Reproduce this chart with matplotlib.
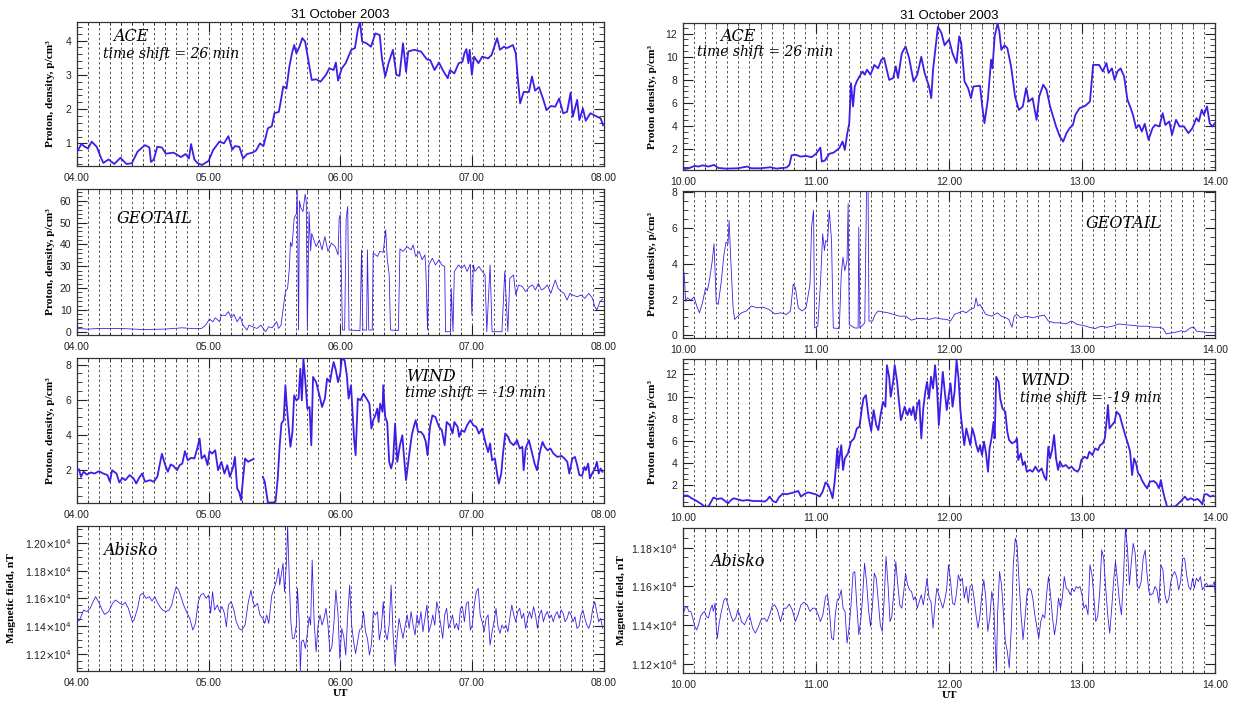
import numpy as np
import matplotlib.pyplot as plt
from matplotlib.ticker import MultipleLocator, AutoMinorLocator, FuncFormatter

plt.rcParams['font.family'] = ['Liberation Sans', 'DejaVu Sans']

# values: (minutes after panel start, value)
ace_l = [(0,0.75),(2,0.98),(3.6,0.9),(5,0.85),(6.7,1.05),(9,0.9),(10.8,0.6),(12,0.43),(14.4,0.53),(17,0.4),
         (19.8,0.58),(22.5,0.4),(25,0.42),(27.6,0.76),(31,0.95),(33,0.88),(33.7,0.46),(35,0.53),(36.6,0.9),
         (38.7,0.88),(40.5,0.7),(44,0.73),(47.4,0.6),(49.5,0.69),(51,0.56),(52,0.98),(53.5,0.53),(55,0.42),
         (57,0.37),(60,0.49),(62,0.8),(64.9,1.05),(67,1.0),(69,1.21),(70.8,0.82),(72,0.92),(74,0.9),(75.7,0.56),
         (77.5,0.69),(80,0.73),(81.6,0.79),(83.4,1.0),(85,0.92),(87,1.44),(88.8,1.5),(90,1.88),(92,1.92),
         (93,2.27),(94,2.66),(95.5,2.6),(96.8,3.24),(98,3.63),(99,3.87),(100,3.63),(101.4,3.82),(102.7,4.07),
         (104,3.97),(105.4,3.44),(107,2.85),(109,2.87),(111,2.8),(113.5,3.0),(115,3.19),(117,3.14),(118,3.36),
         (119,2.83),(120.7,3.19),(122.5,3.34),(125,3.73),(126.7,3.78),(128,4.31),(129,4.55),(130,3.97),
         (132,3.92),(134,3.82),(136,4.21),(138,4.16),(139,3.48),(140.5,2.95),(142,3.34),(144,3.73),(145.6,3.0),
         (147,2.97),(148.6,3.92),(150,3.09),(151,3.68),(153.7,3.73),(156.8,3.68),(159.5,3.45),(161,3.43),
         (163,3.14),(165,3.36),(166.7,3.14),(169,2.9),(170,3.14),(172,3.04),(174,3.34),(175.7,3.38),
         (176.6,3.63),(177.5,3.75),(178.4,3.34),(179,3.73),(180,3.0),(181,3.53),(183,3.34),(184.7,3.53),
         (187.4,3.48),(189,3.58),(191.5,4.07),(192.8,3.73),(194.6,3.82),(196,3.78),(198.7,3.87),(200,3.63),
         (201,2.85),(202,2.17),(203.6,2.5),(206,2.5),(207.4,2.95),(208.8,2.54),(210.6,2.64),(212.6,2.27),
         (214,1.97),(216,2.09),(218,2.07),(219.8,2.31),(221.6,1.88),(223.4,1.92),(225,2.48),(226,1.78),
         (228,2.27),(229,1.68),(230.6,2.02),(231.9,1.66),(234,1.88),(237,1.78),(238.7,1.73),(239.8,1.53)]

ace_r = [(0,0.27),(2.6,0.35),(5.3,0.55),(7,0.5),(8.8,0.6),(11.5,0.5),(14,0.64),(15.9,0.38),(19.4,0.32),
         (24.7,0.35),(29,0.5),(30.8,0.35),(35,0.35),(39.6,0.44),(42,0.32),(46.7,0.41),(48,0.64),(49,1.48),
         (51,1.51),(53,1.36),(55.5,1.42),(58,1.31),(60,1.6),(62,2.14),(62.6,0.93),(64,1.02),(66,1.6),(68,1.71),
         (70.5,2.09),(72,2.66),(73,1.94),(74,3.24),(75,4.25),(75.8,7.72),(76.7,5.7),(77.5,7.43),(78.4,7.87),
         (79.6,8.3),(81,8.73),(82,8.45),(83,8.88),(84.6,8.45),(86.3,9.3),(88,9.0),(89.5,9.75),(90.7,9.9),
         (91.6,9.17),(93,8.0),(94.8,8.16),(96,9.17),(97,8.16),(98.7,10.3),(100.4,10.9),(102,9.9),(104,7.87),
         (105.7,8.45),(107.5,10.0),(109,8.6),(111,7.43),(112,6.42),(112.8,8.88),(114,10.9),(115,12.6),
         (116.6,12.06),(118,11.0),(120,11.5),(121.6,10.3),(123.4,9.46),(124.6,11.77),(125.5,11.2),(127,7.87),
         (128.6,7.29),(129.9,6.42),(131,7.43),(134,7.49),(135,5.7),(136,4.25),(137.5,6.27),(139,9.75),
         (139.6,9.0),(140.6,11.77),(141.9,12.9),(142.7,12.2),(143.6,10.6),(145,11.0),(146.3,10.76),(148,9.17),
         (149.8,6.57),(151.5,5.4),(153.3,5.7),(154.8,7.29),(156,6.13),(157.7,6.42),(159.5,4.54),(160.7,6.57),
         (162.5,7.58),(164,7.14),(165.6,5.7),(168.3,3.97),(170,3.1),(171.5,2.66),(173,3.39),(174.4,3.82),
         (175.9,4.1),(177,4.98),(178.9,5.55),(181.5,5.76),(183.6,6.13),(185,9.3),(187.7,9.3),(189.4,8.73),
         (191,9.46),(192,8.6),(193.5,9.0),(194.7,8.0),(196,8.73),(197.4,9.0),(199,8.3),(200.5,6.27),
         (201.7,5.7),(203,4.98),(204.4,3.82),(205.8,4.1),(207,3.53),(208.3,4.2),(210,2.81),(211.8,3.82),
         (213,4.1),(214.9,3.97),(216.4,5.12),(217.6,4.1),(219.4,4.4),(220.6,3.24),(222.4,4.54),(224,3.97),
         (226,3.97),(228,3.39),(229.8,3.82),(231.6,4.69),(232.7,4.4),(234,5.41),(235,4.98),(236.4,5.7),
         (237.6,4.25),(238.8,3.97),(240,4.25)]

geotail_l = [(0,1.5),(5,1.2),(10,1.5),(20,1.5),(30,1.0),(40,1.2),(48,1.8),(53,1.4),(56.8,1.5),(58.6,3.0),
             (60.4,5.8),(62,4.6),(63,6.4),(65,4.6),(65.8,7.7),(67.6,7.4),(69,9.2),(70.3,6.4),(71.5,8.0),
             (73,4.6),(74.4,6.9),(75.7,3.0),(77.5,0.8),(78.4,3.0),(80,2.3),(82,1.5),(83.8,3.0),(86,0.0),
             (87.4,2.3),(89,1.8),(91,4.6),(91.9,1.5),(93,3.0),(94,10.7),(95,18.4),(96,19.9),(96.8,29),
             (97.3,41),(98,39),(99,52),(100,54),(100.4,65),(101,0.8),(101.4,60),(102,57),(103,55),(104,63),
             (104.5,60),(105,0.8),(105.8,55),(106.5,37),(107,45),(109,39),(110.5,42),(111.7,37.5),(113,43.6),
             (114.4,36.8),(116,40.6),(117.7,39),(119,35.2),(119.5,52),(120,53.6),(121,0.8),(122,0.8),
             (122.7,52),(123.4,57.4),(124,0.8),(129,0.5),(129.7,37.5),(130.3,0.8),(132,0.8),(132.4,37.5),
             (133,0.8),(134.6,0.8),(135,36),(137,34.5),(138,36.8),(139.6,36.4),(140.7,46.7),(141.4,33.7),
             (142.3,26),(142.9,0.8),(146.5,0.5),(147.2,38),(148.6,36.8),(150.5,39),(152.3,37.5),(153.2,39.8),
             (154.4,34.5),(156,36.8),(157.3,33),(158.6,35.2),(159,29),(159.8,0.8),(160.4,30.6),(162,33.7),
             (163.4,30.6),(165,33),(166.3,30.6),(167.6,29.9),(168,0),(170.3,0),(170.6,19.9),(171.4,0),
             (172,27.6),(173.9,30.6),(175.3,29),(176.6,30.6),(177.8,27.6),(179.3,31),(180,7.7),(180.7,30.6),
             (181.4,27.6),(183.2,29.9),(184.7,27.6),(186,26),(186.8,0),(188.3,30.6),(189.2,0),(193.7,0),
             (195,27.6),(196.4,0),(197.3,24.5),(199,26),(200,16.8),(201.3,21.4),(203,20.7),(204.5,18.4),
             (206.3,20.7),(207.7,21.4),(209,19.1),(210.3,22.2),(211.7,19.1),(213,19.9),(214.4,21.4),(216,17.6),
             (218,23.7),(219.3,19.9),(220.7,18.4),(222,17.6),(223.4,14.5),(224.7,17.6),(226,16.8),(228,16),
             (229.7,16.8),(231.5,15.3),(233.3,17.6),(235,15.3),(236,11.5),(237,10),(238.4,13.8),(239.6,15)]

geotail_r = [(0,3.05),(0.5,3.5),(1.2,1.9),(2,2.1),(3.5,1.96),(5,2.15),(6.2,1.64),(7.4,1.26),(8.8,1.83),
             (10.2,2.67),(11,2.5),(12,3.14),(13.2,4.18),(14,5.12),(15,1.83),(15.9,1.73),(17.3,3.05),(18.5,4.56),
             (19.4,5.22),(20.3,5.12),(20.8,6.44),(21.5,4.37),(22.6,1.54),(23.3,0.89),(24.7,1.07),(26.4,1.26),
             (28.5,1.36),(30.8,1.64),(33.5,1.54),(36,1.58),(38.8,1.45),(41.4,1.2),(44,1.26),(46.7,1.17),
             (48.5,1.36),(49.7,2.86),(50.7,2.67),(52,1.54),(53.7,1.36),(55.5,1.54),(57.3,2.86),(58,6.06),
             (58.9,7.0),(59.4,0.41),(60.8,0.51),(62,2.86),(63,5.69),(63.8,4.75),(64.3,5.31),(65.2,5.22),(66,7.0),
             (67,5.31),(67.8,0.41),(70.5,0.38),(71.4,3.43),(72.2,4.37),(73,3.62),(74,4.18),(74.5,7.38),(75,0.6),
             (77.5,0.41),(79,0.41),(79.3,6.06),(79.8,0.41),(82,0.7),(82.8,8.1),(83.5,8.1),(83.9,0.8),(85.5,0.8),
             (86.7,1.17),(88,1.36),(89.9,1.32),(92.5,1.26),(95,1.17),(97.8,1.07),(100.4,1.07),(103,0.85),
             (105.7,0.94),(108.4,0.94),(111,0.89),(113.7,0.98),(116.3,0.92),(119,0.89),(120.7,0.8),(122.5,1.17),
             (124.3,1.26),(126,1.36),(127.8,1.26),(129.6,1.45),(131.4,1.54),(132.2,2.1),(133,1.64),(134,1.73),
             (134.8,1.54),(136.6,1.17),(139.2,1.07),(141.9,1.26),(143.6,1.07),(145.4,1.0),(147,0.89),
             (148.4,0.45),(149.4,1.07),(150.7,1.17),(152.4,0.98),(155,1.07),(157.7,0.98),(160.3,1.07),
             (163,1.13),(164.8,0.8),(167.4,0.7),(170,0.7),(172.7,0.64),(175.3,0.8),(178,0.6),(180.6,0.56),
             (183.3,0.45),(186,0.38),(188.5,0.51),(191.2,0.45),(193.8,0.51),(196.5,0.64),(199,0.6),(202.6,0.56),
             (206,0.51),(209.6,0.51),(212.3,0.45),(215,0.45),(216.6,0.38),(218,0.08),(220,0.13),(222.9,0.19),
             (224.7,0.26),(226.5,0.19),(228.7,0.41),(230.5,0.45),(231.7,0.23),(234.4,0.19),(237.9,0.15),
             (240,0.15)]

wind_l = [(0,1.96),(0.9,2.02),(1.8,1.58),(3,1.87),(4.5,1.71),(6.3,1.83),(8,1.77),(10,1.9),(12,1.77),
          (13.9,1.68),(15,1.3),(16,1.96),(18,1.77),(19.3,1.26),(20.7,1.52),(22,1.39),(24,1.68),(25.8,1.49),
          (27,1.2),(28.3,1.52),(29.7,1.77),(31,1.3),(33.3,1.39),(35,1.3),(36.6,1.58),(37.5,2.15),(38.7,2.9),
          (40,2.34),(41.4,1.87),(42.7,2.29),(44,2.2),(45.6,1.96),(46.8,2.25),(48,2.34),(49.2,3.05),(50.5,2.53),
          (52,2.67),(53.5,2.63),(54.6,3.1),(55.9,3.77),(56.8,2.63),(58.2,2.82),(59.5,2.25),(60.4,3.05),
          (61.6,2.91),(63,3.1),(64.3,1.96),(65.8,2.44),(67.2,1.77),(68.5,2.25),(69.7,1.58),(71.2,2.15),
          (72,2.72),(73,0.91),(73.9,0.72),(74.8,0.25),(75.7,1.49),(76.6,2.63),(78,2.44),(79.3,2.53),
          (80.5,2.6),(82,np.nan),(84.7,1.58),(85.6,1.3),(87,0.11),(89.2,0.11),(90.5,0.15),(91.5,1.49),
          (92.4,3.39),(93.2,4.63),(94.2,4.82),(95,6.82),(95.5,5.87),(96.4,4.53),(97.3,3.3),(98.2,4.15),
          (99,6.25),(100,5.96),(101,6.06),(101.8,7.77),(102.5,5.96),(103.2,8.35),(104,7.2),(105,5.49),
          (106,5.58),(106.8,3.39),(107.6,7.3),(109,7.0),(110.5,6.25),(111.7,5.58),(113,6.06),(114,7.2),
          (115.3,7.0),(116.2,7.68),(117,8.15),(118,7.68),(119,7.0),(120,7.49),(120.7,8.35),(122,8.25),
          (123,7.39),(123.8,6.06),(124.9,6.82),(125.6,5.3),(126.3,3.77),(127,2.82),(128,6.06),(129.2,5.96),
          (130.6,6.34),(132,6.06),(133.3,5.77),(134.2,4.34),(135,4.82),(136,5.1),(136.9,5.49),(137.5,4.72),
          (138.2,5.77),(139.3,5.3),(139.6,6.82),(140.5,5.0),(141.4,4.72),(142.3,2.44),(143.2,2.06),
          (144.1,2.53),(145,4.63),(146,2.44),(147.2,3.39),(148.3,3.96),(149,2.82),(150,1.39),(151.4,2.82),
          (152.6,3.96),(153.7,4.53),(154.4,4.82),(155.5,4.15),(156.8,4.15),(158,3.96),(159,3.58),(159.8,2.82),
          (160.9,4.44),(162,5.1),(163.4,5.0),(165,4.44),(166.3,4.25),(167.6,3.39),(168.5,4.72),(170,4.53),
          (171.2,4.06),(172,4.72),(173.5,4.44),(174.2,3.87),(175.3,4.25),(176.6,4.15),(177.8,4.53),
          (179.3,4.82),(180.7,4.53),(182,4.44),(183.2,4.06),(184.7,4.34),(186.1,3.58),(187.4,3.0),(188.3,3.49),
          (189.2,2.53),(190.5,2.63),(191.5,1.77),(192.3,1.2),(193.4,1.77),(194.1,2.82),(195.2,4.06),
          (196.5,3.87),(197.4,3.58),(199,3.39),(200.6,3.68),(201.8,3.2),(203,3.3),(203.6,1.96),(204.5,3.2),
          (206,3.68),(207.3,3.0),(208.6,2.34),(209.7,1.96),(211,3.0),(212.2,3.58),(213.2,3.3),(214.5,3.1),
          (215.8,3.2),(217.2,2.91),(219,2.72),(220.9,2.78),(222.2,2.63),(223.5,2.44),(224.4,1.77),(225.8,2.63),
          (227,2.72),(228,2.25),(229,1.68),(230.2,1.64),(231.3,2.15),(232,1.96),(233,2.34),(233.8,1.49),
          (234.8,1.77),(236.1,2.06),(237,2.44),(237.8,1.77),(238.7,2.06),(239.5,1.87)]

wind_r = [(0,1.04),(2.1,1.04),(3.9,0.8),(6.2,0.55),(8.5,0.25),(9.7,0.05),(11.5,0.05),(12.7,0.5),(13.7,0.86),
          (15.5,0.73),(17.3,0.8),(19,0.55),(20.3,0.34),(21.5,0.61),(22.9,0.8),(24.7,0.7),(26.8,0.58),(29,0.64),
          (31.7,0.55),(34.4,0.55),(36.7,0.5),(37.9,0.64),(39.1,0.95),(40.5,0.55),(42,0.43),(43.2,0.86),
          (45,1.22),(46.7,1.16),(48.5,1.25),(50.2,1.34),(52,1.46),(53.2,0.95),(54.6,1.16),(56.4,1.34),
          (58.1,1.25),(59.9,1.16),(61.7,0.95),(63,1.4),(64.3,2.24),(65.5,2.0),(66.6,1.4),(67.5,0.8),(68.4,2.3),
          (69,3.66),(69.6,5.31),(70.1,3.5),(70.8,4.7),(71.4,5.61),(72.2,3.36),(73,4.4),(74.4,4.86),(75.8,5.92),
          (77.2,6.22),(78.4,7.12),(79.6,7.27),(80.7,8.93),(81.4,9.83),(82.5,10.13),(83.7,8.17),(84.9,6.88),
          (86,8.78),(87.2,7.42),(88.1,6.97),(89,8.17),(90.2,9.53),(91.3,9.08),(92,12.84),(93,11.79),(93.7,9.98),
          (94.8,11.34),(95.5,12.84),(96.6,11.34),(97.3,9.83),(98.3,7.87),(99,8.33),(100,9.08),(101.3,8.33),
          (102.2,8.93),(103,8.33),(103.9,9.08),(104.8,7.87),(105.7,9.23),(106.6,9.68),(107.5,6.22),
          (108.4,8.93),(109.3,10.43),(110.1,11.34),(111,9.83),(111.9,11.79),(112.8,10.73),(113.7,12.84),
          (114.6,10.73),(115.4,7.42),(116.3,9.83),(117.2,12.24),(118.1,10.43),(119,8.78),(119.9,10.13),
          (120.7,11.19),(121.6,9.08),(122.5,10.43),(123.4,13.3),(124.3,11.64),(125.2,8.63),(126,7.12),
          (126.9,5.61),(127.8,7.12),(128.7,6.37),(129.6,5.61),(130.5,7.12),(131.4,6.52),(132.3,5.61),
          (133.2,5.01),(134,5.61),(134.9,4.71),(135.8,5.92),(136.7,4.86),(137.6,3.2),(138.3,5.31),(139.2,6.22),
          (140.1,7.72),(140.6,6.22),(141.3,11.79),(142.4,11.34),(143.1,9.83),(144.1,8.93),(145.4,8.63),
          (146.3,6.82),(147.1,6.07),(148.4,5.77),(149.8,5.92),(150.7,6.22),(151.2,4.26),(152.4,4.86),
          (153.3,3.81),(154.2,4.11),(155.1,3.2),(156.5,3.36),(157.7,3.2),(159,3.66),(160.4,3.2),(161.8,3.5),
          (163,2.75),(163.9,2.45),(164.8,5.46),(165.6,4.4),(166.5,5.16),(167.4,6.52),(168.3,4.4),(169.2,3.36),
          (170,4.11),(171.3,3.66),(172.7,3.81),(174.1,3.5),(175.3,3.66),(176.6,3.36),(178,3.2),(178.9,3.5),
          (179.7,4.26),(181.1,4.56),(182.4,4.4),(183.3,5.01),(184.7,4.71),(185.9,5.31),(187.2,5.16),
          (188.2,5.61),(189.4,5.77),(190.3,6.22),(191.2,8.02),(191.7,9.23),(192.4,7.12),(193.5,7.42),
          (194.7,7.72),(195.6,8.63),(197,8.33),(198.2,7.42),(199.5,6.52),(200.9,5.61),(201.7,5.01),(202.6,2.9),
          (203.5,4.4),(204.4,3.96),(205.3,3.05),(206.1,2.9),(207,2.45),(208.3,2.0),(209.4,1.7),(210.6,2.3),
          (212.4,2.36),(213.6,2.15),(214.7,1.7),(215.6,2.45),(216.4,1.55),(217.3,0.8),(218,0.34),(218.5,-0.1),
          (219.4,0.05),(222,0.05),(224.7,0.55),(226.4,0.95),(227.7,0.64),(229,0.8),(230.8,0.64),(232.2,0.73),
          (233.4,0.5),(234.3,0.25),(235.2,1.16),(236.4,1.16),(237.8,0.95),(239.3,1.04)]

abisko_l = [(0,11467),(0.9,11436),(1.8,11467),(3,11516),(4.5,11504),(6,11528),(7.2,11571),(8.5,11612),
            (10,11571),(11.4,11516),(12.6,11484),(14.4,11504),(16.2,11564),(17.5,11588),(19,11571),(20.7,11552),
            (22,11571),(23.4,11528),(25.2,11431),(26,11443),(27.6,11528),(28.8,11624),(30,11636),(31.5,11600),
            (33,11612),(34.2,11581),(35.5,11612),(36.6,11571),(37.8,11540),(39,11516),(40.5,11504),(42,11516),
            (43.2,11552),(44,11612),(45.2,11684),(46.3,11660),(47.4,11612),(48.6,11552),(49.9,11504),
            (51.4,11455),(52.8,11371),(54,11419),(55.3,11576),(56.4,11624),(57.6,11636),(58.9,11600),
            (60,11624),(60.9,11492),(61.8,11648),(62.7,11516),(64,11552),(65,11504),(66.1,11540),(67.2,11492),
            (68.1,11395),(69,11552),(70.3,11576),(71.5,11516),(72.6,11431),(73.9,11383),(75.1,11371),
            (76.6,11407),(78,11564),(79.3,11660),(80.2,11576),(81,11540),(82.3,11564),(83.4,11480),(84.7,11455),
            (85.6,11419),(86.5,11480),(87.4,11419),(88.8,11624),(90.1,11684),(91,11733),(91.9,11817),
            (92.4,11696),(93.2,11781),(93.9,11853),(94.6,11648),(95.5,11865),(96,12130),(96.8,11720),
            (97.5,11431),(98.2,11311),(99,11311),(100,11407),(100.5,11672),(101.3,11431),(101.8,11070),
            (102.3,11287),(103.2,11299),(104.1,11239),(105,11347),(105.8,11467),(106.5,11407),(107.2,11877),
            (108.1,11431),(109,11214),(109.9,11407),(110.8,11480),(111.7,11407),(112.6,11455),(113.5,11528),
            (114.4,11407),(115.3,11214),(116.2,11251),(117.1,11419),(118,11660),(119,11480),(119.8,11166),
            (120.7,11383),(121.6,11323),(122.5,11190),(123.4,11480),(124.3,11696),(125.2,11407),(126.1,11287),
            (127,11202),(127.9,11287),(128.8,11371),(129.7,11383),(130.6,11504),(131.5,11359),(132.4,11311),
            (133.3,11190),(134.2,11263),(135.1,11504),(136,11480),(137,11504),(137.8,11299),(138.7,11383),
            (139.6,11576),(140.5,11359),(141.4,11299),(142.3,11407),(143.2,11696),(144.1,11335),(145,11118),
            (145.9,11311),(146.8,11455),(147.7,11383),(148.6,11311),(149.5,11395),(150.5,11480),(151.4,11383),
            (152.3,11504),(153.2,11407),(154.1,11335),(155,11480),(155.9,11407),(156.8,11504),(157.7,11359),
            (158.6,11455),(159.5,11552),(160.4,11359),(161.3,11407),(162.2,11480),(163.1,11407),(164,11576),
            (164.9,11504),(165.8,11407),(166.7,11311),(167.6,11480),(168.5,11528),(169.4,11383),(170.3,11431),
            (171.2,11480),(172.1,11383),(173,11419),(173.9,11371),(174.8,11528),(175.7,11540),(176.6,11431),
            (177.5,11564),(178.4,11576),(179.3,11371),(180.2,11407),(181.1,11552),(182,11648),(182.9,11672),
            (183.8,11480),(184.7,11431),(185.6,11359),(186.5,11455),(187.4,11480),(188.3,11263),(189.2,11359),
            (190.1,11431),(191,11528),(191.9,11395),(192.8,11347),(193.7,11407),(194.6,11383),(195.5,11407),
            (196.4,11359),(197.3,11455),(198.2,11552),(199.1,11480),(200,11431),(200.9,11504),(201.8,11528),
            (202.7,11455),(203.6,11492),(204.5,11383),(205.4,11455),(206.3,11504),(207.2,11455),(208.1,11540),
            (209,11480),(209.9,11383),(210.8,11480),(211.7,11516),(212.6,11431),(213.5,11480),(214.4,11504),
            (215.3,11455),(216.2,11480),(217.1,11431),(218,11480),(218.9,11504),(219.8,11455),(220.7,11516),
            (221.6,11492),(222.5,11431),(223.4,11455),(224.3,11504),(225.2,11480),(226.1,11431),(227,11467),
            (227.9,11383),(228.8,11395),(229.7,11480),(230.6,11516),(231.5,11455),(232.4,11407),(233.3,11383),
            (234.2,11431),(235.1,11528),(236,11576),(236.9,11504),(237.8,11431),(238.7,11455),(239.6,11383)]

abisko_r = [(0,11453),(0.9,11487),(1.8,11496),(2.6,11470),(3.5,11470),(4.4,11436),(5.3,11393),(6.2,11375),
            (7,11401),(7.9,11444),(8.8,11461),(9.7,11470),(10.6,11444),(11.5,11436),(12.3,11478),(13.2,11504),
            (13.7,11470),(14.5,11513),(15,11384),(15.5,11332),(16.2,11401),(17.3,11470),(18.5,11530),
            (19.4,11539),(20.3,11504),(21.5,11453),(22.6,11418),(23.8,11436),(24.7,11478),(25.6,11453),
            (26.4,11418),(27.8,11401),(29,11436),(30,11453),(31.4,11384),(32.6,11358),(33.8,11384),(35.2,11427),
            (36.7,11436),(37.9,11418),(39.1,11453),(40.2,11496),(41.4,11504),(42.6,11478),(44,11418),
            (45.5,11487),(46.7,11487),(47.9,11508),(49.3,11478),(50.7,11418),(51.9,11453),(53.2,11504),
            (54.6,11518),(56,11504),(57.3,11470),(58.5,11487),(59.6,11487),(60.8,11461),(62,11418),(63.1,11453),
            (64.3,11547),(65.2,11556),(66.1,11470),(67,11332),(67.9,11324),(68.7,11453),(69.6,11530),
            (70.5,11539),(71.4,11582),(72.2,11487),(73.1,11470),(74,11307),(74.9,11384),(75.8,11504),
            (76.7,11668),(77.5,11676),(78.4,11504),(79.3,11350),(80.2,11427),(81,11539),(81.9,11719),
            (82.8,11625),(83.7,11478),(84.6,11393),(85.5,11504),(86.3,11668),(87.2,11642),(88.1,11521),
            (89,11401),(89.9,11367),(90.7,11521),(91.6,11754),(92.5,11608),(93.4,11418),(94.2,11444),
            (95.1,11573),(96,11728),(96.9,11608),(97.8,11504),(98.7,11487),(99.6,11573),(100.4,11668),
            (101.3,11608),(102.2,11582),(103.1,11573),(104,11530),(104.8,11547),(105.7,11487),(106.6,11521),
            (107.5,11556),(108.4,11504),(109.2,11564),(110.1,11642),(111,11539),(111.9,11521),(112.8,11384),
            (113.7,11504),(114.5,11590),(115.4,11556),(116.3,11521),(117.2,11487),(118.1,11530),(118.9,11582),
            (119.8,11711),(120.7,11625),(121.6,11513),(122.5,11504),(123.3,11556),(124.2,11659),(125.1,11625),
            (126,11642),(126.9,11539),(127.8,11599),(128.7,11513),(129.5,11599),(130.4,11608),(131.3,11539),
            (132.2,11453),(133.1,11384),(134,11453),(134.8,11556),(135.7,11633),(136.6,11539),(137.5,11367),
            (138.4,11436),(139.3,11573),(140.2,11504),(140.7,11350),(141.4,11160),(141.9,11453),(142.8,11676),
            (143.7,11608),(144.6,11453),(145.4,11315),(146.3,11264),(147.2,11178),(148.1,11384),(149,11711),
            (149.9,11848),(150.7,11814),(151.6,11625),(152.5,11453),(153.4,11324),(154.3,11436),(155.2,11564),
            (156.1,11590),(157,11582),(157.8,11539),(158.7,11453),(159.6,11393),(160.5,11332),(161.4,11418),
            (162.3,11453),(163.2,11436),(164,11556),(164.9,11650),(165.8,11556),(166.7,11436),(167.6,11350),
            (168.5,11418),(169.4,11539),(170.3,11487),(171.1,11539),(172,11650),(172.9,11590),(173.8,11582),
            (174.7,11556),(175.6,11590),(176.5,11573),(177.4,11599),(178.2,11590),(179.1,11599),(180,11556),
            (180.9,11487),(181.8,11504),(182.7,11453),(183.6,11711),(184.5,11659),(185.4,11539),(186.2,11418),
            (187.1,11444),(188,11573),(188.9,11788),(189.8,11745),(190.7,11590),(191.6,11453),(192.5,11358),
            (193.4,11487),(194.3,11633),(195.1,11728),(196,11633),(196.9,11521),(197.8,11453),(198.7,11642),
            (199.6,11900),(200.5,11797),(201.4,11608),(202.2,11719),(203.1,11822),(204,11771),(204.9,11599),
            (205.8,11590),(206.7,11625),(207.6,11745),(208.5,11788),(209.3,11668),(210.2,11573),(211.1,11556),
            (212,11564),(212.9,11599),(213.8,11582),(214.7,11513),(215.6,11711),(216.5,11685),(217.4,11556),
            (218.3,11513),(219.2,11539),(220.1,11625),(220.9,11659),(221.8,11676),(222.7,11650),(223.6,11582),
            (224.5,11625),(225.4,11745),(226.3,11745),(227.2,11659),(228.1,11599),(229,11582),(229.9,11642),
            (230.7,11590),(231.6,11642),(232.5,11625),(233.4,11650),(234.3,11582),(235.2,11599),(236.1,11616),
            (237,11599),(237.9,11608),(238.8,11599),(239.7,11625),(240,11564)]

W, H = 1233, 702
BLUE = '#3c1ee6'
fig = plt.figure(figsize=(W / 100, H / 100), dpi=100)

# column: start hour, left/right pixel, ylabel x pixel (density / magnetic), row pixel extents
columns = [
    dict(h0=4, l=77, r=603.5, ylab=(55, 16), rows=[(21.7, 166), (189, 335), (357.7, 502.7), (526, 671)],
         dens_label='Proton, density, p/cm³'),
    dict(h0=10, l=683, r=1215, ylab=(657, 626), rows=[(23.3, 170), (190.7, 338), (359, 506), (527.7, 673)],
         dens_label='Proton density, p/cm³'),
]

panels = [
    # left column
    [dict(data=ace_l, lw=1.3, ylim=(0.34, 4.55), major=1, minor=5),
     dict(data=geotail_l, lw=0.6, ylim=(-1.5, 65.4), major=10, minor=5),
     dict(data=wind_l, lw=1.3, ylim=(0.1, 8.4), major=2, minor=4),
     dict(data=abisko_l, lw=0.6, ylim=(11075, 12123), major=200, minor=4)],
    # right column
    [dict(data=ace_r, lw=1.3, ylim=(0.2, 12.9), major=2, minor=4),
     dict(data=geotail_r, lw=0.6, ylim=(-0.15, 8.1), major=2, minor=4),
     dict(data=wind_r, lw=1.3, ylim=(0.1, 13.4), major=2, minor=4),
     dict(data=abisko_r, lw=0.6, ylim=(11152, 11903), major=200, minor=4)],
]

# (column, row, x, y, text, size, ha)
labels = [
    (0, 0, 0.103, 0.894, 'ACE', 11.5, 'center'),
    (0, 0, 0.050, 0.776, 'time shift = 26 min', 10, 'left'),
    (1, 0, 0.104, 0.909, 'ACE', 11.5, 'center'),
    (1, 0, 0.026, 0.802, 'time shift = 26 min', 10, 'left'),
    (0, 1, 0.075, 0.800, 'GEOTAIL', 11.5, 'left'),
    (1, 1, 0.757, 0.779, 'GEOTAIL', 11.5, 'left'),
    (0, 2, 0.627, 0.869, 'WIND', 11.5, 'left'),
    (0, 2, 0.623, 0.759, 'time shift = -19 min', 10, 'left'),
    (1, 2, 0.635, 0.857, 'WIND', 11.5, 'left'),
    (1, 2, 0.633, 0.737, 'time shift = -19 min', 10, 'left'),
    (0, 3, 0.049, 0.828, 'Abisko', 11.5, 'left'),
    (1, 3, 0.051, 0.766, 'Abisko', 11.5, 'left'),
]

sci = FuncFormatter(lambda v, p: f'{v / 1e4:.2f}' + r'$\times$10$^4$')
axes = {}
for ci, col in enumerate(columns):
    h0, l, r = col['h0'], col['l'], col['r']
    for ri, (top, bot) in enumerate(col['rows']):
        p = panels[ci][ri]
        ax = fig.add_axes([l / W, 1 - bot / H, (r - l) / W, (bot - top) / H])
        axes[ci, ri] = ax
        arr = np.array(p['data'], dtype=float)
        ax.plot(h0 + arr[:, 0] / 60, arr[:, 1], color=BLUE, lw=p['lw'], zorder=3)
        # dotted 5-minute grid
        for k in range(1, 48):
            ax.axvline(h0 + k / 12, color='#505050', lw=0.7, ls=(0, (2.4, 2.6)), zorder=1)
        ax.set_xlim(h0, h0 + 4)
        ax.set_ylim(*p['ylim'])
        ax.xaxis.set_major_locator(MultipleLocator(1))
        ax.xaxis.set_minor_locator(MultipleLocator(1 / 12))
        ax.xaxis.set_major_formatter(FuncFormatter(lambda v, pos: f'{int(round(v)):02d}.00'))
        ax.yaxis.set_major_locator(MultipleLocator(p['major']))
        ax.yaxis.set_minor_locator(AutoMinorLocator(p['minor']))
        if ri == 3:
            ax.yaxis.set_major_formatter(sci)
            ax.set_xlabel('UT', family='Liberation Serif', weight='bold', fontsize=8, labelpad=1)
            ylab, yx = 'Magnetic field, nT', col['ylab'][1]
        else:
            ax.yaxis.set_major_formatter(FuncFormatter(lambda v, pos: f'{v:g}'))
            ylab, yx = col['dens_label'], col['ylab'][0]
        ax.set_ylabel(ylab, family='Liberation Serif', weight='bold', fontsize=8.2)
        ax.yaxis.set_label_coords((yx - l) / (r - l), 0.5)
        ax.tick_params(which='both', direction='in', top=True, right=True, labelsize=7.5, colors='#222222')
        ax.tick_params(which='major', length=7, width=0.8, pad=4)
        ax.tick_params(axis='x', which='major', pad=5)
        ax.tick_params(which='minor', length=3.5, width=0.6)
        ax.tick_params(axis='x', which='minor', length=2.5)
        for s in ax.spines.values():
            s.set_linewidth(0.9)
            s.set_color('#333333')
        if ri == 0:
            ax.set_title('31 October 2003', fontsize=9.5, pad=3)

for ci, ri, x, y, txt, size, ha in labels:
    axes[ci, ri].text(x, y, txt, transform=axes[ci, ri].transAxes, family='DejaVu Serif',
                      style='italic', fontsize=size, ha=ha, va='center', zorder=5)

fig.savefig('out.png', dpi=100)
